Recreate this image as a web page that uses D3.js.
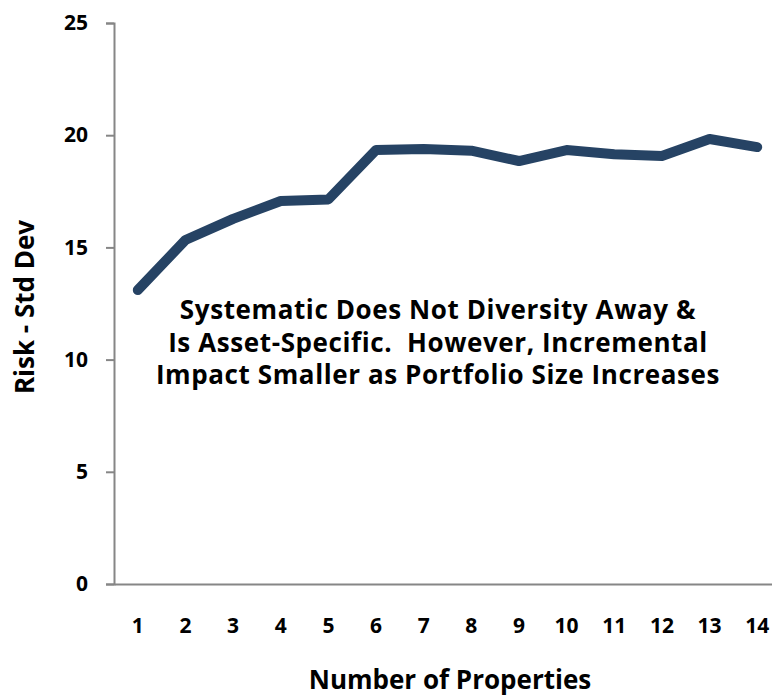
<!DOCTYPE html>
<html>
<head>
<meta charset="utf-8">
<script src="https://cdn.jsdelivr.net/npm/d3@7"></script>
<style>
  html, body { margin: 0; padding: 0; background: #fff; }
  svg { display: block; }
  text { font-family: "Open Sans", sans-serif; font-weight: bold; fill: #000; }
</style>
</head>
<body>
<svg id="chart" width="772" height="697"></svg>
<script>
// Portfolio size (number of properties) and the resulting risk
const categories = ["1","2","3","4","5","6","7","8","9","10","11","12","13","14"];
const riskValues = [13.1, 15.33, 16.27, 17.07, 17.14, 19.34, 19.38, 19.31, 18.85, 19.34, 19.15, 19.07, 19.83, 19.47];
const yTicks = [0, 5, 10, 15, 20, 25];
const noteLines = [
  "Systematic Does Not Diversity Away &",
  "Is Asset-Specific.  However, Incremental",
  "Impact Smaller as Portfolio Size Increases"
];
const xTitle = "Number of Properties";
const yTitle = "Risk - Std Dev";

const svg = d3.select("#chart");
const axisColor = "#868686";
const font = "'Open Sans', sans-serif";

const x = d3.scaleBand().domain(categories).range([114, 781]);
const y = d3.scaleLinear().domain([0, 25]).range([584, 23]);

function styleTicks(g) {
  g.selectAll(".tick text")
    .style("font-size", "21px")
    .style("font-family", font)
    .style("font-weight", "bold")
    .attr("fill", "#000");
}

// Y axis
const yAxis = svg.append("g")
  .attr("transform", "translate(114,0)")
  .call(d3.axisLeft(y).tickValues(yTicks).tickSize(8).tickPadding(18));
yAxis.select(".domain").attr("stroke", axisColor).attr("stroke-width", 2);
yAxis.selectAll(".tick line").attr("stroke", axisColor).attr("stroke-width", 2);
styleTicks(yAxis);

// X axis (no tick marks)
const xAxis = svg.append("g")
  .attr("transform", "translate(0,584)")
  .call(d3.axisBottom(x).tickSize(0).tickPadding(34));
xAxis.select(".domain").attr("stroke", axisColor).attr("stroke-width", 2);
styleTicks(xAxis);

// Risk line
const line = d3.line()
  .x((d, i) => x(categories[i]) + x.bandwidth() / 2)
  .y(d => y(d));

svg.append("path")
  .datum(riskValues)
  .attr("d", line)
  .attr("fill", "none")
  .attr("stroke", "#264364")
  .attr("stroke-width", 10)
  .attr("stroke-linejoin", "round")
  .attr("stroke-linecap", "round");

// Annotation
svg.append("g")
  .selectAll("text")
  .data(noteLines)
  .join("text")
  .attr("x", 438)
  .attr("y", (d, i) => 319 + i * 32.5)
  .attr("text-anchor", "middle")
  .style("font-size", "26px")
  .style("letter-spacing", "0.6px")
  .style("white-space", "pre")
  .text(d => d);

// Axis titles
svg.append("text")
  .attr("x", 450)
  .attr("y", 689)
  .attr("text-anchor", "middle")
  .style("font-size", "26px")
  .text(xTitle);

svg.append("text")
  .attr("transform", "translate(34,307) rotate(-90)")
  .attr("text-anchor", "middle")
  .style("font-size", "26px")
  .text(yTitle);
</script>
</body>
</html>
